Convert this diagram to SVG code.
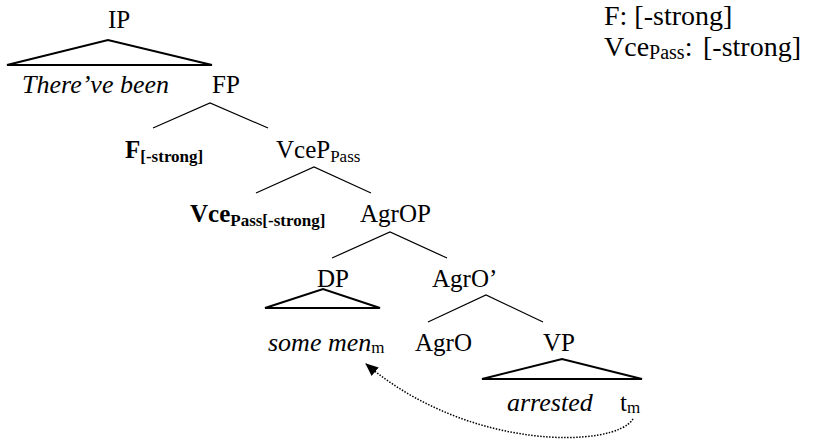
<svg xmlns="http://www.w3.org/2000/svg" width="824" height="442" viewBox="0 0 824 442">
<style>
text{font-family:'Liberation Serif','Times New Roman',serif;font-size:25px;fill:#000}
.it{font-style:italic;font-size:26px}
.b{font-weight:bold}
.sub{font-size:17px}
.lg{font-size:28px}
.lgsub{font-size:20px}
.br{stroke:#000;stroke-width:1.2;fill:none}
.tri{stroke:#000;stroke-width:2;fill:none;stroke-linejoin:miter}
.mv{stroke:#000;stroke-width:1.5;fill:none;stroke-dasharray:1.5 1.5}
</style>
<defs>
<marker id="ah" markerWidth="13" markerHeight="11" refX="12" refY="5.5" orient="auto" markerUnits="userSpaceOnUse">
<path d="M0,0 L13,5.5 L0,11 Z" fill="#000"/>
</marker>
</defs>
<rect width="824" height="442" fill="#fff"/>
<g id="IP"><text x="108" y="28">IP</text>
<path class="tri" d="M7,65 L108,40 L212,65 Z"/></g>
<g id="therevebeen"><text class="it" x="22" y="93">There’ve been</text></g>
<g id="FP"><text x="212" y="93">FP</text></g>
<g id="F"><text class="b" x="125" y="158">F<tspan class="sub" dy="4">[-strong]</tspan></text></g>
<g id="VceP"><text x="276" y="158">VceP<tspan class="sub" dy="4">Pass</tspan></text></g>
<g id="Vce"><text class="b" x="190" y="222">Vce<tspan class="sub" dy="4">Pass[-strong]</tspan></text></g>
<g id="AgrOP"><text x="360" y="222">AgrOP</text></g>
<g id="DP"><text x="317" y="287">DP</text>
<path class="tri" d="M265,308 L323,289 L380,308 Z"/></g>
<g id="AgrObar"><text x="432" y="287">AgrO’</text></g>
<g id="somemen"><text class="it" x="268" y="351">some men<tspan class="sub" font-style="normal" dy="2">m</tspan></text></g>
<g id="AgrO"><text x="415" y="351">AgrO</text></g>
<g id="VP"><text x="543" y="351">VP</text>
<path class="tri" d="M482,379 L562,359 L642,379 Z"/></g>
<g id="arrested"><text class="it" x="507" y="411">arrested</text></g>
<g id="trace"><text x="620" y="411">t<tspan class="sub" dy="2">m</tspan></text></g>
<g id="legend">
<text class="lg" x="604" y="25">F: [-strong]</text>
<text class="lg" x="604" y="56">Vce<tspan class="lgsub" dy="3">Pass</tspan><tspan dy="-3">:</tspan><tspan x="703">[-strong]</tspan></text>
</g>
<g id="connectors">
<path class="br" d="M153,128 L210,103 L268,128"/>
<path class="br" d="M256,193 L314,167 L371,193"/>
<path class="br" d="M332,258 L390,232 L447,258"/>
<path class="br" d="M428,322 L486,295 L543,322"/>
<path class="mv" d="M633,419 C615,448 470,452 366,364" marker-end="url(#ah)"/>
</g>
</svg>
